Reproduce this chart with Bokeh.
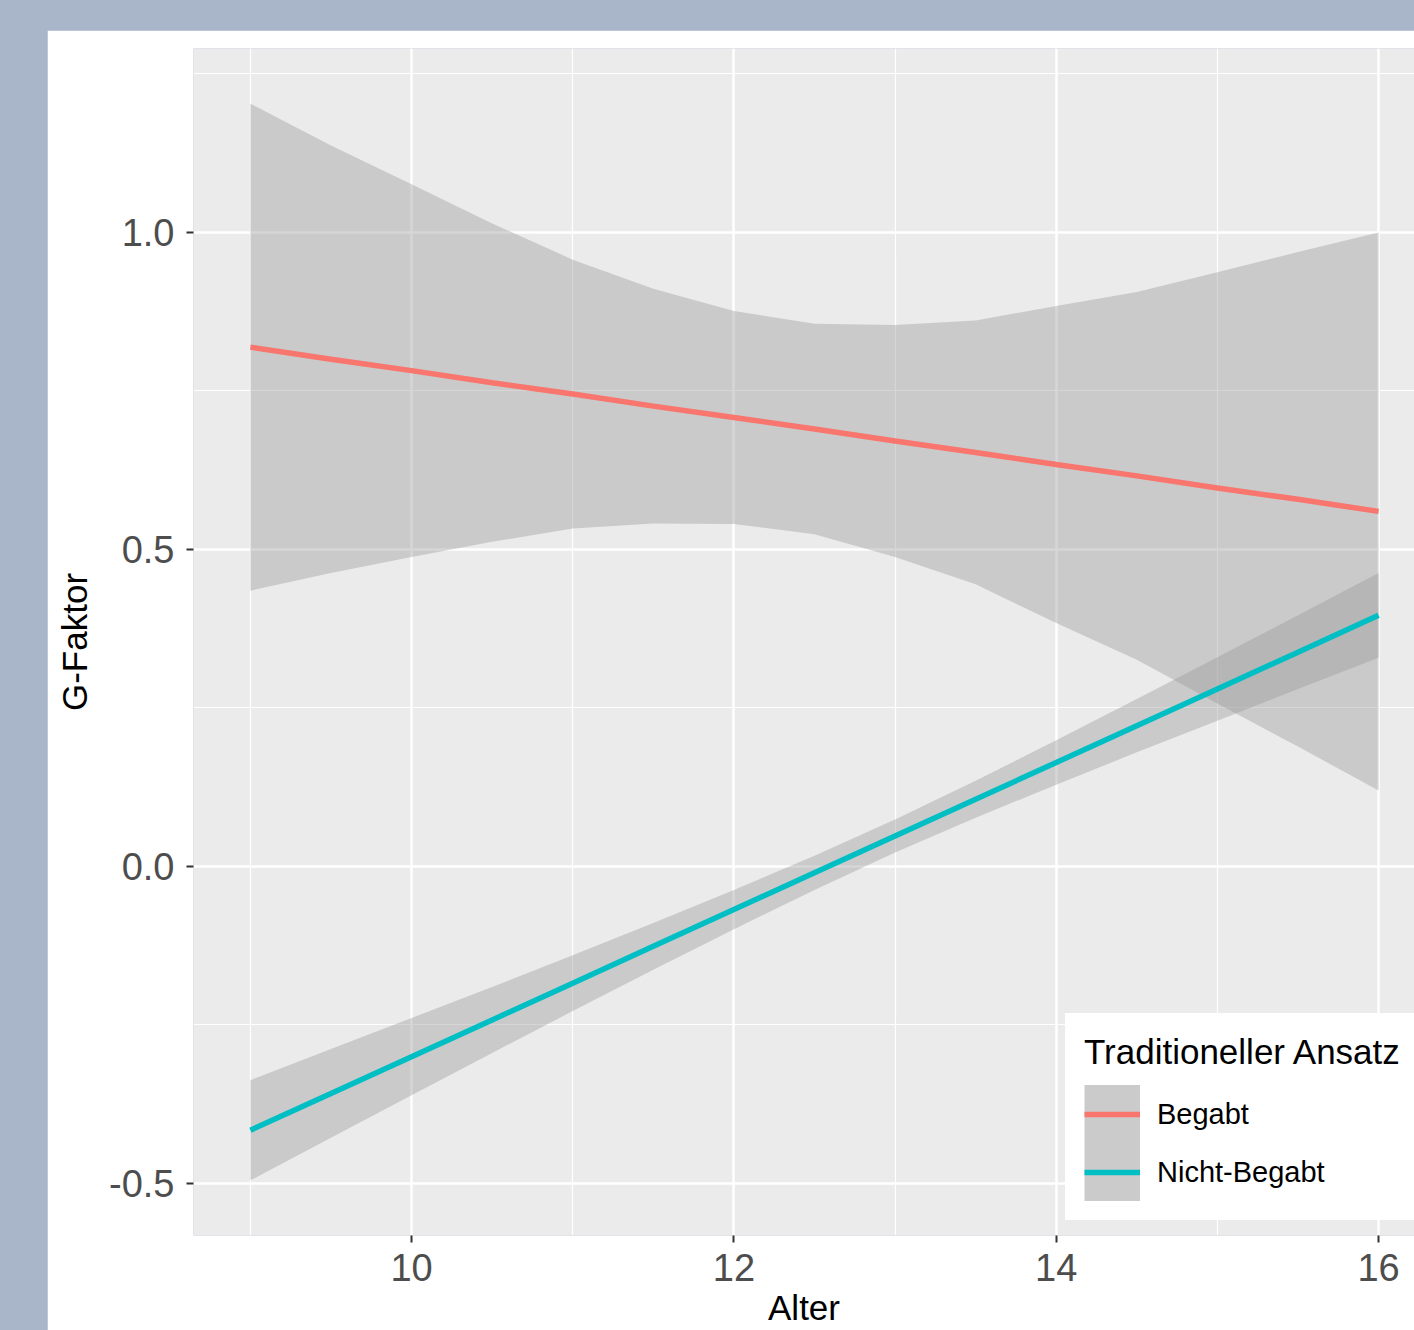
from bokeh.plotting import figure
from bokeh.models import (FixedTicker, Legend, LegendItem, ColumnDataSource, Spacer)
from bokeh.layouts import column, row
from bokeh.embed import file_html
from bokeh.resources import INLINE

# ---- data ----
alter = [9, 9.5, 10, 10.5, 11, 11.5, 12, 12.5, 13, 13.5, 14, 14.5, 15, 15.5, 16]

begabt_fit = [0.819, 0.800, 0.782, 0.763, 0.745, 0.726, 0.708, 0.690, 0.671,
              0.653, 0.634, 0.616, 0.597, 0.579, 0.560]
begabt_upper = [1.203, 1.137, 1.076, 1.014, 0.957, 0.911, 0.876, 0.856, 0.854,
                0.861, 0.884, 0.906, 0.937, 0.969, 1.000]
begabt_lower = [0.435, 0.463, 0.488, 0.512, 0.533, 0.541, 0.540, 0.524, 0.488,
                0.445, 0.384, 0.326, 0.257, 0.189, 0.120]

nicht_fit = [-0.416, -0.358, -0.300, -0.242, -0.184, -0.126, -0.068, -0.010, 0.048,
             0.106, 0.164, 0.222, 0.280, 0.338, 0.396]
nicht_upper = [-0.337, -0.288, -0.239, -0.190, -0.140, -0.089, -0.037, 0.017, 0.074,
               0.135, 0.199, 0.264, 0.330, 0.396, 0.463]
nicht_lower = [-0.495, -0.428, -0.361, -0.294, -0.228, -0.163, -0.099, -0.037, 0.022,
               0.077, 0.129, 0.180, 0.230, 0.280, 0.329]

groups = ["Begabt", "Nicht-Begabt"]
group_colors = ["#F8766D", "#00BFC4"]

x_major = [10, 12, 14, 16]
x_minor = [9, 11, 13, 15]
y_major = [-0.5, 0.0, 0.5, 1.0]
y_minor = [-0.25, 0.25, 0.75, 1.25]
y_labels = {-0.5: "-0.5", 0.0: "0.0", 0.5: "0.5", 1.0: "1.0"}

FONT = "Liberation Sans"
NAN = float("nan")

p = figure(width=1367, height=1300, output_backend="svg", toolbar_location=None,
           x_range=(8.647, 16.223), y_range=(-0.582, 1.290),
           min_border_left=146, min_border_right=0, min_border_top=18,
           min_border_bottom=95)
p.background_fill_color = "#EBEBEB"
p.border_fill_color = "white"
p.outline_line_color = None

# grid
p.xaxis.ticker = FixedTicker(ticks=x_major, minor_ticks=x_minor)
p.yaxis.ticker = FixedTicker(ticks=y_major, minor_ticks=y_minor)
for g in (p.xgrid[0], p.ygrid[0]):
    g.grid_line_color = "white"
    g.grid_line_width = 2.5
    g.minor_grid_line_color = "white"
    g.minor_grid_line_width = 1.2

# data
src_b = ColumnDataSource(dict(x=alter, fit=begabt_fit, lo=begabt_lower, hi=begabt_upper))
src_n = ColumnDataSource(dict(x=alter, fit=nicht_fit, lo=nicht_lower, hi=nicht_upper))

p.varea(x="x", y1="lo", y2="hi", source=src_b, fill_color="#999999", fill_alpha=0.4)
lb = p.line(x="x", y="fit", source=src_b, line_color=group_colors[0], line_width=5.5)
p.varea(x="x", y1="lo", y2="hi", source=src_n, fill_color="#999999", fill_alpha=0.4)
ln = p.line(x="x", y="fit", source=src_n, line_color=group_colors[1], line_width=5.5)

# legend key backgrounds (invisible renderers used only for the legend keys)
kb = p.line(x=[NAN], y=[NAN], line_color="#CBCBCB", line_width=60, line_cap="butt")
kn = p.line(x=[NAN], y=[NAN], line_color="#CBCBCB", line_width=60, line_cap="butt")

legend = Legend(items=[LegendItem(label=groups[0], renderers=[kb, lb]),
                       LegendItem(label=groups[1], renderers=[kn, ln])],
                location=(872, 15), title="Traditioneller Ansatz")
legend.title_text_font = FONT
legend.title_text_font_size = "35px"
legend.title_text_font_style = "normal"
legend.title_text_color = "black"
legend.title_standoff = 13
legend.label_text_font = FONT
legend.label_text_font_size = "29px"
legend.label_text_color = "black"
legend.glyph_width = 56
legend.glyph_height = 58
legend.label_height = 58
legend.spacing = 0
legend.padding = 18
legend.margin = 0
legend.label_standoff = 17
legend.border_line_color = "white"
legend.border_line_width = 1
legend.background_fill_color = "white"
legend.background_fill_alpha = 1.0
p.add_layout(legend)

# axes
for ax in (p.xaxis[0], p.yaxis[0]):
    ax.axis_line_color = None
    ax.major_tick_line_color = "#333333"
    ax.major_tick_line_width = 2
    ax.major_tick_in = 0
    ax.major_tick_out = 7
    ax.minor_tick_line_color = None
    ax.major_label_text_font = FONT
    ax.major_label_text_font_size = "38px"
    ax.major_label_text_color = "#4D4D4D"
    ax.axis_label_text_font = FONT
    ax.axis_label_text_font_size = "35px"
    ax.axis_label_text_font_style = "normal"
    ax.axis_label_text_color = "black"

p.xaxis.axis_label = "Alter"
p.xaxis.major_label_standoff = 11
p.xaxis.axis_label_standoff = 4
p.yaxis.axis_label = "G-Faktor"
p.yaxis.major_label_standoff = 12
p.yaxis.axis_label_standoff = 12
p.yaxis.major_label_overrides = y_labels

BG = "#A9B5C8"
root = column(Spacer(width=1414, height=30),
              row(Spacer(width=47, height=1300), p),
              styles={"background-color": BG})

open("out.html", "w").write(file_html(root, INLINE))
